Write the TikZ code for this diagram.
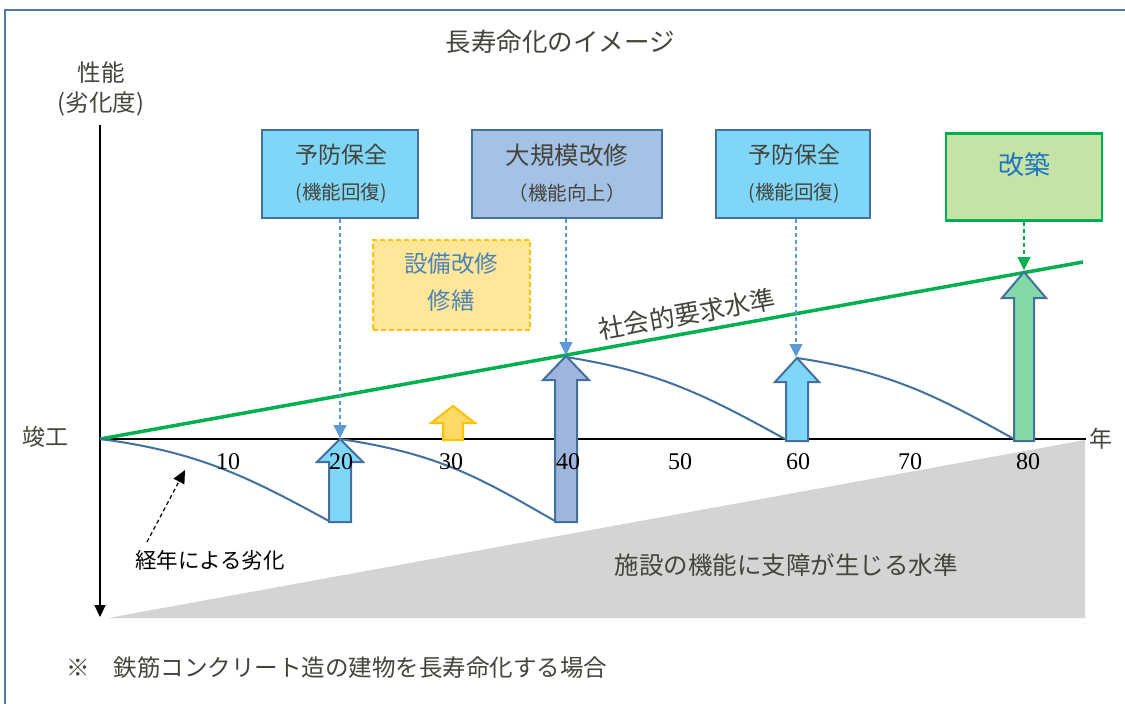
\documentclass[tikz,border=0pt]{standalone}
\usepackage{fontspec}
\setmainfont{Liberation Serif}
\newfontfamily\jp{Noto Sans CJK JP}
\usetikzlibrary{arrows.meta}
\definecolor{frameblue}{HTML}{4F7AAE}
\definecolor{edgeblue}{HTML}{41719C}
\definecolor{txt}{HTML}{45443C}
\definecolor{skyfill}{HTML}{7FD6F7}
\definecolor{steelfill}{HTML}{A4C2E6}
\definecolor{arrowsteel}{HTML}{A0B5DE}
\definecolor{greenfill}{HTML}{C6E3A6}
\definecolor{greenarrow}{HTML}{82D8A6}
\definecolor{lgreen}{HTML}{00B050}
\definecolor{yelfill}{HTML}{FFE699}
\definecolor{yeledge}{HTML}{FFC000}
\definecolor{yelarrow}{HTML}{FFD966}
\definecolor{dashblue}{HTML}{5B9BD5}
\definecolor{graylvl}{HTML}{D4D4D4}
\definecolor{kaichiku}{HTML}{1F74C0}
\newcommand\blkarrow[7]{% cx, tip y, headbase y, bottom y, shaft half, head half, fill
  \draw[edgeblue,line width=2pt,line join=miter,fill=#7]
    (#1,#2) -- (#1+#6,#3) -- (#1+#5,#3) -- (#1+#5,#4) -- (#1-#5,#4) -- (#1-#5,#3) -- (#1-#6,#3) -- cycle;}
\tikzset{
  jtxt/.style={font=\jp\fontsize{23}{27}\selectfont, text=txt, inner sep=0pt},
  stxt/.style={font=\jp\fontsize{19.5}{23}\selectfont, text=txt, inner sep=0pt},
  numtxt/.style={font=\fontsize{24}{27}\selectfont, text=black, inner sep=0pt},
  bluebox/.style={draw=edgeblue, line width=2.2pt, fill=skyfill},
  dasharr/.style={dashblue, line width=1.2pt, dash pattern=on 4pt off 3pt, -{Triangle[length=13pt,width=13pt]}},
  curve/.style={edgeblue, line width=2pt}
}
\begin{document}
\begin{tikzpicture}[x=1pt,y=-1pt]
\useasboundingbox (0,0) rectangle (1125,704);
\fill[white] (0,0) rectangle (1125,704);
% frame
\draw[frameblue,line width=2.5pt] (5,720) -- (5,10) -- (1130,10);
% title
\node[jtxt,font=\jp\fontsize{25.5}{29}\selectfont] (title) at (560,42) {長寿命化のイメージ};
% gray level polygon
\fill[graylvl] (108,618) -- (1085,440) -- (1085,618) -- cycle;
\node[jtxt,font=\jp\fontsize{24.5}{28}\selectfont] (shisho) at (786,565) {施設の機能に支障が生じる水準};
% axes
\coordinate (O) at (100,439);
\coordinate (ytop) at (100,125);
\coordinate (ybot) at (100,617);
\coordinate (xend) at (1086,439);
\draw[black,line width=2pt,-{Triangle[length=12pt,width=11pt]}] (ytop) -- (ybot);
\draw[black,line width=2pt] (O) -- (xend);
\node[jtxt,font=\jp\fontsize{23.5}{27}\selectfont] (perf) at (101,73) {性能};
\node[jtxt,font=\jp\fontsize{23.5}{27}\selectfont] (deg) at (101,104) {(劣化度)};
\node[jtxt] (shunko) at (46,437) {竣工};
\node[jtxt] (nen) at (1101,439) {年};
% green requirement line
\coordinate (gend) at (1083,262);
\draw[lgreen,line width=3.5pt] (O) -- (gend);
\node[jtxt,font=\jp\fontsize{25.5}{29}\selectfont,rotate=10.2] (shakai) at (687,314) {社会的要求水準};
% deterioration curves
\draw[curve] (O) .. controls (200,452) and (250,478) .. (329,521);
\draw[curve] (340,439) .. controls (440,454) and (480,478) .. (555,521);
\draw[curve] (566,357) .. controls (660,372) and (705,395) .. (785,439);
\draw[curve] (797,358) .. controls (890,372) and (935,395) .. (1014,439);
% block arrows
\blkarrow{340}{439}{462}{522}{11}{23}{skyfill}
\blkarrow{566}{356}{380}{522}{11}{23}{arrowsteel}
\blkarrow{797}{358}{382}{441}{11}{22}{skyfill}
\blkarrow{1024}{272}{298}{441}{10}{22}{greenarrow}
\draw[yeledge,line width=2pt,fill=yelarrow]
  (453,406) -- (475,423) -- (463,423) -- (463,440) -- (443,440) -- (443,423) -- (431,423) -- cycle;
% ticks (on top of arrows)
\foreach \v/\x in {10/228,20/341,30/451,40/568,50/680,60/798,70/910,80/1028}
  \node[numtxt] (t\v) at (\x,462) {\v};
% boxes
\node[bluebox, minimum width=156pt, minimum height=88pt] (b1) at (340,174) {};
\node[jtxt] at (341,155) {予防保全};
\node[stxt] at (341,193) {(機能回復)};
\node[draw=edgeblue, line width=2.2pt, fill=steelfill, minimum width=190pt, minimum height=88pt] (b2) at (567,174) {};
\node[jtxt,font=\jp\fontsize{24.5}{28}\selectfont] at (567,155) {大規模改修};
\node[stxt] at (567,193) {（機能向上）};
\node[bluebox, minimum width=154pt, minimum height=88pt] (b3) at (793,174) {};
\node[jtxt] at (794,155) {予防保全};
\node[stxt] at (794,193) {(機能回復)};
\node[draw=lgreen, line width=2.2pt, fill=greenfill, minimum width=156pt, minimum height=87pt] (b4) at (1024,177) {};
\node[jtxt,font=\jp\fontsize{26}{30}\selectfont,text=kaichiku] at (1024,165) {改築};
\node[draw=yeledge, line width=2pt, dash pattern=on 5pt off 3pt, fill=yelfill, minimum width=157pt, minimum height=90pt] (b5) at (451,285) {};
\node[jtxt,font=\jp\fontsize{23.5}{27}\selectfont,text=dashblue!85!black] at (451,264) {設備改修};
\node[jtxt,font=\jp\fontsize{23.5}{27}\selectfont,text=dashblue!85!black] at (451,301) {修繕};
% dashed pointers
\coordinate (p1) at (340,438);
\coordinate (p2) at (566,355);
\coordinate (p3) at (796,357);
\coordinate (p4) at (1024,270);
\draw[dasharr] (b1.south -| p1) -- (p1);
\draw[dasharr] (b2.south -| p2) -- (p2);
\draw[dasharr] (b3.south -| p3) -- (p3);
\draw[dasharr,lgreen] (b4.south -| p4) -- (p4);
% aging note
\node[jtxt,text=black,font=\jp\fontsize{21.5}{25}\selectfont] (keinen) at (210,560) {経年による劣化};
\coordinate (kt) at (185,470);
\draw[black,line width=1.2pt,dash pattern=on 4pt off 3pt,-{Triangle[length=13pt,width=12pt]}] (147,542) -- (kt);
% footnote
\node[jtxt,anchor=west,font=\jp\fontsize{23.5}{27}\selectfont] (note) at (66,668) {※\hspace{24pt}鉄筋コンクリート造の建物を長寿命化する場合};
\end{tikzpicture}
\end{document}
